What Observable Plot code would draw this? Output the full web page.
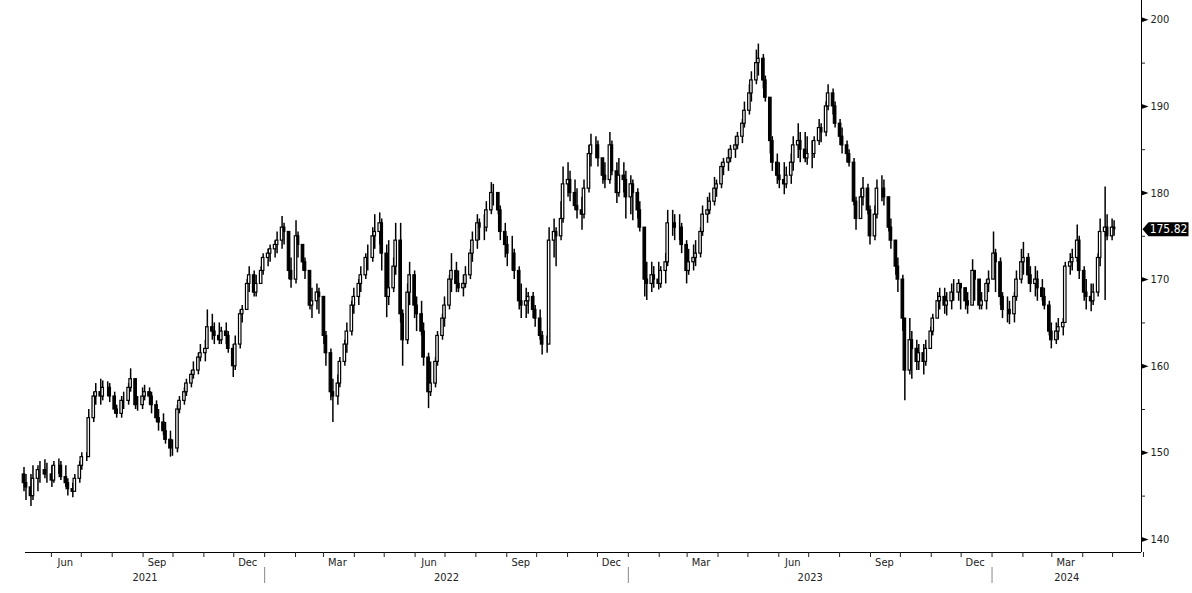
<!DOCTYPE html>
<html><head><meta charset="utf-8">
<script src="https://cdn.jsdelivr.net/npm/d3@7"></script>
<script src="https://cdn.jsdelivr.net/npm/@observablehq/plot@0.6"></script>
<style>html,body{margin:0;padding:0;background:#fff;overflow:hidden;}</style>
</head><body><div id="chart"></div>
<script>
// Half-week candles (Mon-Wed, Thu-Fri)
const firstWeek = "2021-05-03";
const lastWeek = "2024-04-29";
const firstOpen = 147.5;
const closes = [
146.5,146.0, 145,147, 148,148, 147.5,147.5, 146.8,148.5, 148.5,147.2, 146.5,145.8, 145.5,147, 148.5,149.5, 149.5,154,
156.5,157, 156.5,157.5, 157.5,156.5, 155,154.5, 156,156, 157.5,158.5, 155.5,155.5, 156.5,157, 156.5,155.5, 154,153.5,
152.5,151.5, 150.5,150.5, 155,156, 157,158, 159,159.5, 161,161.5, 162,164.5, 164,163.5, 163,164, 163.5,162,
160,162.5, 166,166.5, 169.5,170.5, 168.5,169.5, 171,172.5, 173,173.5, 174,174.5, 176,175.5, 171,170, 175,174,
172,171, 167,167.5, 168.5,168, 163.5,161.5, 157,156.5, 158,160.5, 162.5,164, 167,168, 169.5,170.5, 172.5,172.5,
175,175.5, 176.5,173, 168,169, 171.5,174.5, 166,163, 168.5,170.5, 167,166, 164,161, 157,158, 160.5,163.5,
165.5,167, 170,171, 169.5,169, 169.5,170.5, 173,174.5, 176.5,176, 176,178, 180,180, 178,175.5, 174,173,
173,171, 167.5,167, 167.5,168, 166.5,165.5, 163.5,162.5, 162.5,174.5, 175.5,175, 177,181, 181.5,180, 178.5,178,
177.5,180.5, 184.5,185.5, 185.5,184, 182,181.5, 185.5,182.5, 180,182, 181.5,179.5, 181,180, 178,176, 170,169.5,
170.5,170, 169.5,171, 172,176.5, 176.5,176, 176,174, 171,172, 172.5,173, 175.5,177.5, 178,179, 180.5,181,
183,183.5, 184,185, 185.5,186.5, 188,189.5, 191.5,193, 195,195.5, 193,191, 186,183.5, 182,181.5, 181,182,
183.5,185.5, 186,185, 184,184.5, 184.5,186, 187.5,187, 190,191.5, 190,188, 186.5,185.5, 184.5,183.5, 179,177,
179.5,180.5, 178,175, 177.5,180.5, 180.5,179.5, 176,174.5, 171.5,170, 165.5,159.5, 163,162, 160.5,161.5, 160.5,162,
164,165.5, 167.5,168, 167,167.5, 168.5,168.5, 169.5,169, 167.5,167, 171,170, 167,167.5, 169.5,170, 173,172,
168,166.5, 166.5,166, 168,170, 172,172.5, 170.5,169.5, 170,169, 168,167, 164,163, 164,164.5, 165,171.5,
172,172.5, 174.5,171, 168.5,168, 167.5,168.5, 172.5,175.5, 176,175, 176,175.82];
const highs = [
148.3,147.5, 147.5,148.5, 148.5,149, 149.2,148.8, 148.5,149, 149.3,149, 148.5,147, 146.5,147.5, 149,150, 150,155,
157,158, 158.5,158.3, 158.2,158, 157,155.5, 156.5,157, 158,159.7, 158.5,156.5, 157.5,157.8, 157.5,157, 156,155,
154.5,153.5, 152.5,151.5, 155.5,156.5, 157.5,158.5, 159.5,160.5, 161.5,162.5, 163,166.5, 166,165, 165,164.5, 165,164,
162.5,163.5, 166.5,167, 170,171.5, 171,170.5, 171.5,173, 173.5,174, 174.5,175.5, 177.3,176.5, 175.5,172.5, 176.8,175.5,
174,172.5, 171,169, 169.5,169, 168,164, 162,158.5, 159,161, 163,165, 167.5,169, 170,171.5, 173,174,
176,177.5, 177.7,177, 174,174.5, 172.5,176.5, 176.5,166.5, 169.5,172, 171,168, 167.5,165, 161.5,160.5, 161,164,
166,168, 170.5,173, 172,171, 170.5,171.5, 173.5,175.5, 177.5,177, 177.5,179, 181.2,181, 180,178.5, 176.5,175,
175,173.5, 171.5,169.5, 169,168.5, 168.5,167, 166.5,164, 163.5,176, 177,176, 179,183, 183.5,182.5, 181.5,180.5,
179.5,181.5, 185.5,186.8, 186.5,186, 184,183.5, 187,186, 183.5,184, 183.5,182.5, 182,181.5, 180.5,179, 176,172,
172,171.5, 172,171.5, 173,178, 178,177.5, 177.5,176.5, 174.5,173.5, 174,174.5, 176,178.5, 179.5,180, 181.8,181.5,
183.5,184, 185,185.5, 186.5,187, 188.5,190.5, 192.5,194, 196.5,197.2, 196,193.5, 191,186.5, 184.5,183.5, 183.5,183,
184.5,186.5, 188,187, 187,186.5, 186,186.5, 188.5,188, 190.5,192.5, 192,190.5, 188.5,187.5, 186,185, 184,179.5,
180.5,181.8, 181,178.5, 178.5,181.5, 182,181.5, 179.5,177, 174.5,172.5, 170.5,165.5, 165.5,164, 163,162.5, 162.5,163,
164.5,166, 168.5,169, 169,168.5, 169.5,170, 170,169.5, 169,168.5, 172.3,171, 170,168.5, 170,171, 175.5,173.5,
172.5,168.5, 168,167.5, 168.5,171, 173.5,174.3, 173,171.5, 171.5,171, 170,169, 167.5,165, 165,165.5, 165.5,172,
173,173.5, 176.3,175, 171.5,170, 169.5,169.5, 173,177, 180.7,177.5, 177,176.8];
const lows = [
145.5,144.5, 143.8,144.5, 145.5,146.5, 147,146.5, 146,146.5, 147.5,146.8, 146,145, 144.8,145.5, 146.5,148, 149,149.5,
153.5,155.5, 155.5,156, 156.5,155.8, 154.5,154, 154,155, 155.5,157, 155,154.8, 155,156, 155.5,154.5, 153.5,152.5,
152,151, 149.5,149.6, 150,154.5, 155.5,156.5, 157.5,158.5, 159,160.5, 160.5,162, 163,162.5, 162.5,162.5, 162.5,161.5,
158.7,159.5, 162,165, 166.5,168.5, 168,168, 169.5,170.5, 171.5,172, 172.5,173, 173.5,174, 170,169, 169.5,172.5,
171,170, 166.5,165.5, 166.5,166, 162.5,160, 156,153.5, 155.5,157.5, 160,161.5, 163.5,166, 167,168.5, 170,171,
172,173.5, 174,171, 165.6,167, 168.5,170.5, 165,160, 162.5,167, 165.5,164, 163.5,160, 155.1,156.5, 157.5,160,
163,164.5, 166.5,168.5, 168.5,168.5, 168,169, 170,172, 173.5,174.5, 174.5,175.5, 177.5,178.5, 177.5,174.5, 172.5,171.5,
171,170, 166.5,165.5, 165.5,166, 165.5,164.5, 163,161.3, 161.5,162.5, 172.5,171.5, 174.5,176.5, 179.5,179, 178,177,
175.7,177, 180,183, 184,183, 181,180.5, 181,182, 178.8,179.5, 180,177, 177.5,176.8, 177,175.5, 168,167.6,
168.5,169, 168.8,169, 169.5,171.5, 175,174.5, 174.5,173, 169.5,170.5, 171,171.5, 172.5,175, 176.5,177.5, 178.5,179.5,
180.5,182, 182.5,183.5, 184,185, 185.7,187.5, 189,190.5, 192.5,193.5, 192,190.5, 184.5,182.5, 181,180.5, 179.8,180.5,
181,182.5, 184,183.5, 183.5,183.2, 182.8,184, 185.5,185.8, 186.5,189.5, 189,187.5, 185.5,184.5, 183.5,183, 178.5,175.7,
177,178.5, 177.5,174, 174.5,177, 179,178.5, 175.5,173.5, 170.5,168.5, 164,156, 159,158.5, 159.5,159.5, 159,160,
162,163.5, 165.5,166.5, 166,165.8, 166.5,167.5, 167.5,166.5, 166.5,166, 167,167.5, 166.5,166.5, 166.5,168.5, 170,168.5,
167,165.5, 165,164.8, 165,167.5, 169.5,170.5, 169.5,168.5, 168,167.5, 167.5,166.5, 163.5,162, 162.5,163, 163.5,165,
170.5,171, 172,170, 167.5,166.5, 166.3,167, 168,171.5, 167.6,174.5, 174.5,175];
const lastPrice = 175.82;
const yTicks = [140,150,160,170,180,190,200];
const yMinor = [145,155,165,175,185,195];
const quarterMonths = ["Mar","Jun","Sep","Dec"];
const years = [2021,2022,2023,2024];
const xStart = new Date(Date.UTC(2021,4,6));
const xEnd = new Date(Date.UTC(2024,4,30));
const yDomain = [138.49, 202.23];

const mondays = d3.utcMonday.range(new Date(firstWeek), d3.utcDay.offset(new Date(lastWeek), 1));
const barDates = mondays.flatMap(m => [d3.utcHour.offset(m, 36), d3.utcHour.offset(m, 84)]);
const data = barDates.map((date, i) => {
  const open = i ? closes[i-1] : firstOpen, close = closes[i];
  return {date, open, close,
    high: Math.max(highs[i], open, close),
    low: Math.min(lows[i], open, close)};
});
const up = data.filter(d => d.close >= d.open);
const down = data.filter(d => d.close < d.open);

const monthStarts = d3.utcMonth.range(d3.utcMonth.ceil(xStart), d3.utcDay.offset(xEnd, 3));
const quarterMids = d3.utcMonth.range(xStart, xEnd)
  .filter(m => quarterMonths.includes(d3.utcFormat("%b")(m)))
  .map(m => d3.utcDay.offset(m, 14));
const yearStarts = years.slice(1).map(y => new Date(Date.UTC(y,0,1)));
const yearMids = years.map(y => {
  const a = new Date(Math.max(xStart, Date.UTC(y,0,1)));
  const b = new Date(Math.min(xEnd, Date.UTC(y+1,0,1)));
  return new Date((+a + +b) / 2);
});

const tag = {draw(ctx) { ctx.moveTo(0,0); ctx.lineTo(6,-7); ctx.lineTo(46,-7); ctx.lineTo(46,7); ctx.lineTo(6,7); ctx.closePath(); }};
const wedge = {draw(ctx) { ctx.moveTo(0,-2.5); ctx.lineTo(7,0); ctx.lineTo(0,2.5); ctx.closePath(); }};
const bw = 30;

const chart = Plot.plot({
  width: 1192, height: 593,
  marginLeft: 25, marginRight: 51, marginTop: 0, marginBottom: 41,
  style: {fontFamily: "'DejaVu Sans Condensed', 'DejaVu Sans', sans-serif", fontSize: "11px", color: "#222", background: "#fff"},
  x: {type: "utc", domain: [xStart, xEnd]},
  y: {domain: yDomain},
  marks: [
    Plot.ruleX(data, {x: "date", y1: "low", y2: "high", stroke: "#000", strokeWidth: 1.5}),
    Plot.rect(down, {x1: d => d3.utcHour.offset(d.date, -bw), x2: d => d3.utcHour.offset(d.date, bw), y1: "open", y2: "close", fill: "#000", stroke: "#000", strokeWidth: 1.2}),
    Plot.rect(up, {x1: d => d3.utcHour.offset(d.date, -bw), x2: d => d3.utcHour.offset(d.date, bw), y1: "open", y2: "close", fill: "#fff", stroke: "#000", strokeWidth: 1.2}),
    Plot.ruleY([yDomain[0]], {stroke: "#000"}),
    Plot.ruleX([xEnd], {stroke: "#000"}),
    Plot.axisX({ticks: monthStarts, tickSize: 5, tickFormat: () => "", label: null}),
    Plot.axisX({ticks: quarterMids, tickSize: 0, tickPadding: 6, tickFormat: "%b", label: null}),
    Plot.axisX({ticks: yearMids, tickSize: 0, tickPadding: 21, tickFormat: "%Y", label: null}),
    Plot.axisX({ticks: yearStarts, tickSize: 16, dy: 15, stroke: "#888", tickFormat: () => "", label: null}),
    Plot.axisY({anchor: "right", ticks: yMinor, tickSize: 3, tickFormat: () => "", label: null}),
    Plot.axisY({anchor: "right", ticks: yTicks, tickSize: 0, tickPadding: 9, tickFormat: d => d, label: null}),
    Plot.dot(yTicks, {x: () => xEnd, y: d => d, symbol: wedge, fill: "#000", stroke: null}),
    Plot.dot([lastPrice], {x: () => xEnd, y: d => d, dx: 1, symbol: tag, fill: "#000", stroke: null}),
    Plot.text([lastPrice], {x: () => xEnd, y: d => d, dx: 27, text: d => d.toFixed(2), fill: "#fff", fontSize: 12, textAnchor: "middle"})
  ]
});
document.getElementById("chart").appendChild(chart);
</script>
</body></html>
